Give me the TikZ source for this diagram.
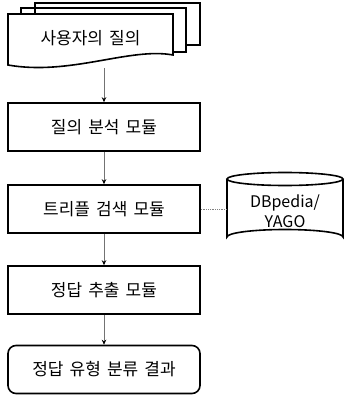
\documentclass[tikz,border=0pt]{standalone}
\usepackage{fontspec}
\setmainfont[WordSpace=1.6]{Noto Sans CJK KR}
\usetikzlibrary{arrows.meta}
\begin{document}
\begin{tikzpicture}[x=1pt,y=-1pt,
  lbl/.style={font=\fontsize{17}{20}\selectfont},
  box/.style={lbl,draw=black,line width=1.6pt,minimum width=192pt,minimum height=48pt,inner sep=0pt},
  sheet/.style={draw=black,line width=1.6pt,line join=miter},
  arr/.style={draw=black!55,line width=0.8pt,-{Stealth[black,length=5pt,width=4.5pt]}},
  link/.style={draw=black!50,line width=0.8pt,densely dotted}]
\useasboundingbox (0,0) rectangle (345,398);
% document stack
\draw[sheet] (35,14) -- (35,3) -- (200,3) -- (200,45) -- (186,45);
\draw[sheet] (21,14) -- (21,8) -- (186,8) -- (186,52) -- (173,52);
\draw[sheet,fill=white] (8,14) -- (173,14) -- (173,55) .. controls (130,47) and (70,76) .. (8,65) -- cycle;
\node[lbl] (doc) at (90.5,38) {사용자의 질의};
\coordinate (docend) at (104,68);
% boxes
\node[box] (b1) at (104,127) {질의 분석 모듈};
\node[box] (b2) at (104,209) {트리플 검색 모듈};
\node[box] (b3) at (104,290) {정답 추출 모듈};
\node[box,rounded corners=8pt] (b4) at (104,369.5) {정답 유형 분류 결과};
% cylinder
\node[minimum width=116pt,minimum height=58pt,inner sep=0pt,align=center,font=\fontsize{16}{20}\selectfont] (db) at (285,211) {DBpedia/\\YAGO};
\draw[sheet] (227,179) -- (227,237) arc[start angle=180,end angle=360,x radius=58,y radius=7.5] -- (343,179);
\draw[sheet] (285,179) ellipse[x radius=58,y radius=6.5];
% connectors
\draw[arr] (docend) -- (b1.north);
\draw[arr] (b1) -- (b2);
\draw[arr] (b2) -- (b3);
\draw[arr] (b3) -- (b4);
\draw[link] (b2.east) -- (b2.east -| db.west);
\end{tikzpicture}
\end{document}
